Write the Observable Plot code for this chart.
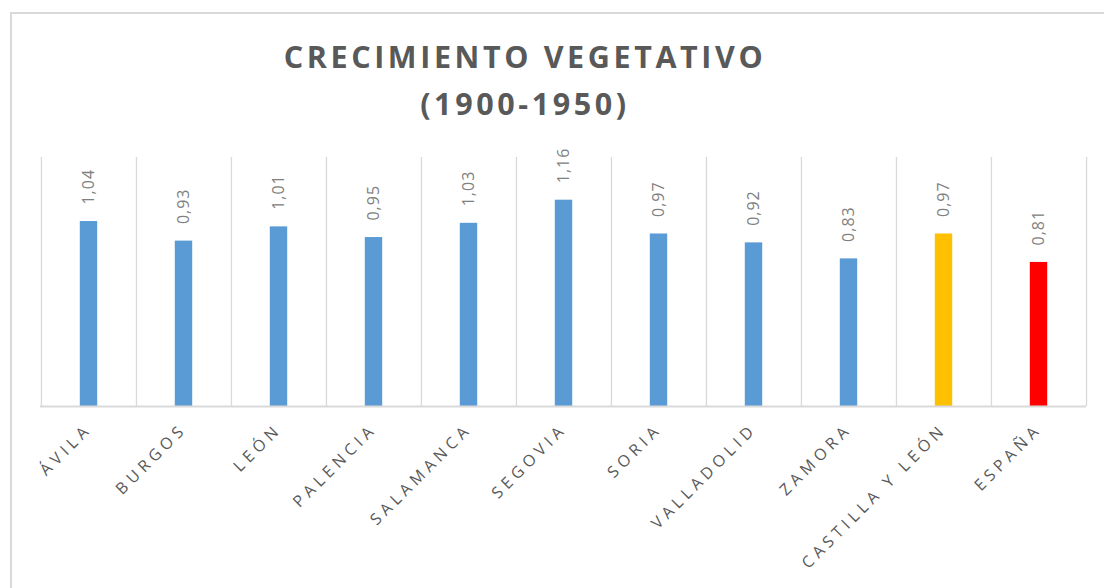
<!DOCTYPE html>
<html>
<head>
<meta charset="utf-8">
<script src="https://cdn.jsdelivr.net/npm/d3@7"></script>
<script src="https://cdn.jsdelivr.net/npm/@observablehq/plot@0.6"></script>
<style>
  html, body { margin: 0; padding: 0; background: #fff; }
  body { width: 1104px; height: 588px; position: relative; overflow: hidden; font-family: "Open Sans", sans-serif; }
  #frame { position: absolute; left: 10px; top: 12px; width: 1200px; height: 700px; border-left: 2px solid #d9d9d9; border-top: 2px solid #d9d9d9; box-sizing: border-box; }
  #title { position: absolute; left: 0; top: 33px; width: 1050px; text-align: center; font-family: "Open Sans", sans-serif; font-weight: 700; font-size: 30.5px; line-height: 47px; letter-spacing: 3.6px; color: #595959; }
  #chart { position: absolute; left: 0; top: 140px; }
  .cv g[aria-label="x-axis tick label"] text { letter-spacing: 4.6px; }
  .cv g[aria-label="text"] text { letter-spacing: 1px; }
</style>
</head>
<body>
<div id="frame"></div>
<div id="title">CRECIMIENTO VEGETATIVO<br>(1900-1950)</div>
<div id="chart"></div>
<script>
const categories = ["ÁVILA", "BURGOS", "LEÓN", "PALENCIA", "SALAMANCA", "SEGOVIA", "SORIA", "VALLADOLID", "ZAMORA", "CASTILLA Y LEÓN", "ESPAÑA"];
const values = [1.04, 0.93, 1.01, 0.95, 1.03, 1.16, 0.97, 0.92, 0.83, 0.97, 0.81];
const groups = ["Provincia", "Provincia", "Provincia", "Provincia", "Provincia", "Provincia", "Provincia", "Provincia", "Provincia", "Comunidad", "País"];

const data = categories.map((c, i) => ({category: c, value: values[i], group: groups[i]}));
const fmt = v => d3.format(".2f")(v).replace(".", ",");

const W = 1104, H = 448, mL = 40, mR = 18, mT = 17, mB = 182;
const bw = (W - mL - mR) / categories.length;
const barW = 17.5;

const chart = Plot.plot({
  width: W, height: H,
  marginLeft: mL, marginRight: mR, marginTop: mT, marginBottom: mB,
  className: "cv",
  style: {fontFamily: "Open Sans, sans-serif", background: "transparent"},
  x: {type: "band", domain: categories, padding: 0, axis: null, label: null},
  y: {domain: [0, 1.4], axis: null},
  color: {domain: ["Provincia", "Comunidad", "País"], range: ["#5B9BD5", "#FFC000", "#FF0000"]},
  marks: [
    Plot.ruleX(categories, {x: d => d, dx: -bw / 2, stroke: "#d9d9d9", strokeWidth: 1.3}),
    Plot.ruleX(categories.slice(-1), {x: d => d, dx: bw / 2, stroke: "#d9d9d9", strokeWidth: 1.3}),
    Plot.barY(data, {x: "category", y: "value", fill: "group", insetLeft: (bw - barW) / 2, insetRight: (bw - barW) / 2}),
    Plot.ruleY([0], {stroke: "#d9d9d9", strokeWidth: 2}),
    Plot.text(data, {x: "category", y: "value", text: d => fmt(d.value), rotate: -90, textAnchor: "start", dy: -17, fontSize: 16, fill: "#808080"}),
    Plot.axisX({domain: categories, label: null, tickRotate: -45, tickSize: 0, tickPadding: 20, fontSize: 16, fill: "#595959", textAnchor: "end"})
  ]
});
document.getElementById("chart").appendChild(chart);
</script>
</body>
</html>
